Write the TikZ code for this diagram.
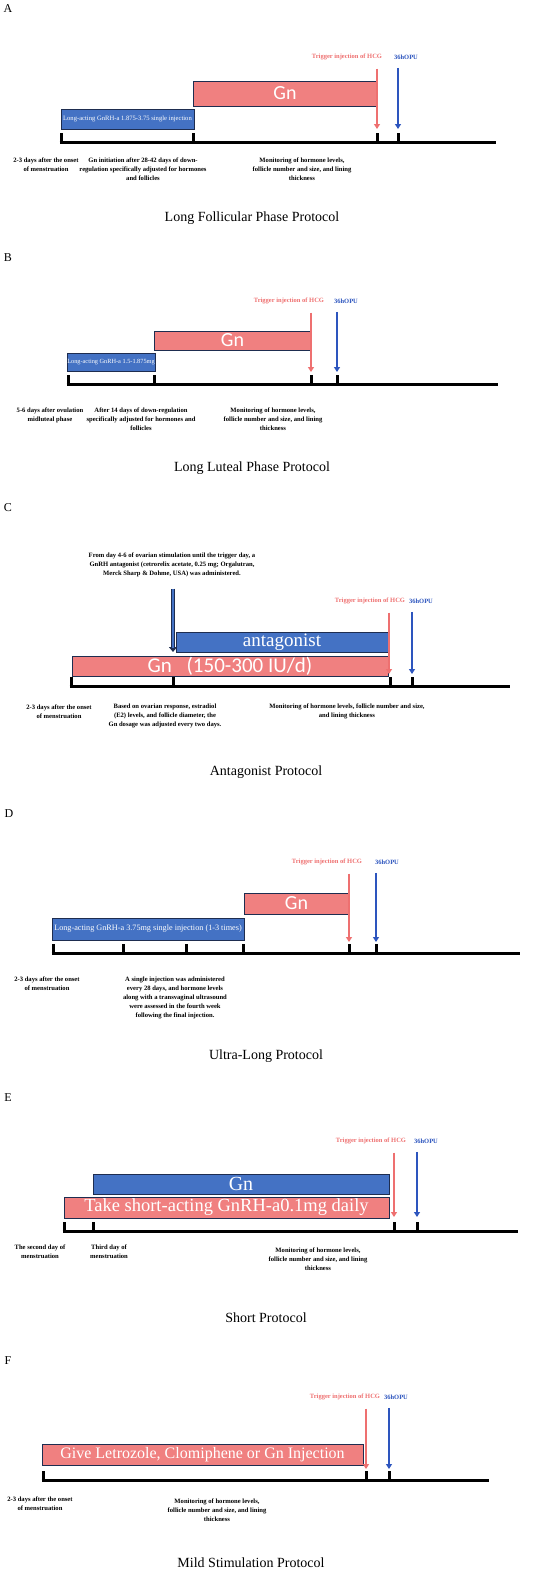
\documentclass[tikz,border=0pt]{standalone}
\usepackage{fontspec}
\setmainfont{Liberation Serif}
\newfontfamily\calibri{Carlito}
\usepackage{tikz}
\usetikzlibrary{arrows.meta}
\definecolor{gnpink}{RGB}{240,128,128}
\definecolor{agblue}{RGB}{68,114,196}
\definecolor{edgenavy}{RGB}{30,45,80}
\definecolor{hcgred}{RGB}{238,112,112}
\definecolor{opublue}{RGB}{45,85,190}

\begin{document}
\begin{tikzpicture}[x=1pt, y=-1pt,
    pinkbar/.style={draw=edgenavy, line width=0.9pt, fill=gnpink, text=white, inner sep=0pt},
    bluebar/.style={draw=edgenavy, line width=0.9pt, fill=agblue, text=white, inner sep=0pt},
    gnsans/.style={font=\calibri\fontsize{20}{20}\selectfont},
    note/.style={font=\fontsize{6.6}{9}\selectfont\bfseries, align=center},
    ptitle/.style={font=\fontsize{14}{16}\selectfont},
    letter/.style={font=\fontsize{12}{14}\selectfont},
    hcg/.style={font=\fontsize{6.5}{8}\selectfont\bfseries, text=hcgred},
    opu/.style={font=\fontsize{6.5}{8}\selectfont\bfseries, text=opublue},
    redarr/.style={-{Triangle[width=6pt,length=5pt]}, line width=1.6pt, hcgred, shorten <=5pt},
    bluearr/.style={-{Triangle[width=6pt,length=5pt]}, line width=1.6pt, opublue, shorten <=5pt},
    tline/.style={line width=3pt}
  ]
    \useasboundingbox (0,0) rectangle (558,1572);

    % A: long follicular phase
    \node[letter] (pA) at (8,8.5) {A};
    \node[hcg] (trigA) at (347,57) {Trigger injection of HCG};
    \node[opu] (opuA) at (406,57) {36hOPU};
    \node[pinkbar, minimum width=184pt, minimum height=25pt, gnsans] (gnA) at (285,93.5) {Gn};
    \node[bluebar, minimum width=133pt, minimum height=20pt, font=\fontsize{6.6}{8}\selectfont] (lagA) at (127.5,119) {Long-acting GnRH-a 1.875-3.75 single injection};
    \draw[tline] (59.5,142) -- (496,142);
    \foreach \x in {61,193,377,398} \draw[tline] (\x,133) -- (\x,142);
    \coordinate (hcgA) at (377,129);
    \coordinate (retA) at (398,129);
    \draw[redarr] (trigA.south -| hcgA) -- (hcgA);
    \draw[bluearr] (opuA.south -| retA) -- (retA);
    \node[note] (a1) at (46,164.5) {2-3 days after the onset\\of menstruation};
    \node[note] (a2) at (143,169) {Gn initiation after 28-42 days of down-\\regulation specifically adjusted for hormones\\and follicles};
    \node[note] (a3) at (302,169.5) {Monitoring of hormone levels,\\follicle number and size, and lining\\thickness};
    \node[ptitle] (tA) at (252,218) {Long Follicular Phase Protocol};

    % B: long luteal phase
    \node[letter] (pB) at (8,258) {B};
    \node[hcg] (trigB) at (289,301) {Trigger injection of HCG};
    \node[opu] (opuB) at (346,301) {36hOPU};
    \node[pinkbar, minimum width=157pt, minimum height=19pt, gnsans] (gnB) at (232.5,340.5) {Gn};
    \node[bluebar, minimum width=88pt, minimum height=18pt, font=\fontsize{6.3}{8}\selectfont] (lagB) at (111,362) {Long-acting GnRH-a 1.5-1.875mg};
    \draw[tline] (66.5,384) -- (498,384);
    \foreach \x in {68,154,311,337} \draw[tline] (\x,375) -- (\x,384);
    \coordinate (hcgB) at (311,372);
    \coordinate (retB) at (337,372);
    \draw[redarr] (trigB.south -| hcgB) -- (hcgB);
    \draw[bluearr] (opuB.south -| retB) -- (retB);
    \node[note] (b1) at (50,415) {5-6 days after ovulation\\midluteal phase};
    \node[note] (b2) at (141,419.5) {After 14 days of down-regulation\\specifically adjusted for hormones and\\follicles};
    \node[note] (b3) at (273,419.5) {Monitoring of hormone levels,\\follicle number and size, and lining\\thickness};
    \node[ptitle] (tB) at (252,468) {Long Luteal Phase Protocol};

    % C: antagonist
    \node[letter] (pC) at (8,508) {C};
    \node[note] (antnote) at (172,565) {From day 4-6 of ovarian stimulation until the trigger day, a\\GnRH antagonist (cetrorelix acetate, 0.25 mg; Orgalutran,\\Merck Sharp \& Dohme, USA) was administered.};
    \node[hcg] (trigC) at (370,601) {Trigger injection of HCG};
    \node[opu] (opuC) at (421,601) {36hOPU};
    \node[bluebar, minimum width=212pt, minimum height=20pt, font=\fontsize{19}{19}\selectfont] (antC) at (282,642) {antagonist};
    \node[pinkbar, minimum width=316pt, minimum height=20pt, font=\calibri\fontsize{21}{21}\selectfont] (gnC) at (230,666) {Gn\hspace{0.7em}(150-300 IU/d)};
    \coordinate (startC) at (173,652);
    \draw[line width=4pt, edgenavy, -{Triangle[width=8pt,length=5pt]}, shorten <=8pt] (antnote.south -| startC) -- (startC);
    \draw[line width=2.7pt, agblue, shorten <=8.7pt, shorten >=4.5pt] (antnote.south -| startC) -- (startC);
    \draw[tline] (69.5,686) -- (510,686);
    \foreach \x in {71,173,390,412} \draw[tline] (\x,677) -- (\x,686);
    \coordinate (hcgC) at (389,674);
    \coordinate (retC) at (412,674);
    \draw[redarr] (trigC.south -| hcgC) -- (hcgC);
    \draw[bluearr] (opuC.south -| retC) -- (retC);
    \node[note] (c1) at (59,711.5) {2-3 days after the onset\\of menstruation};
    \node[note] (c2) at (165,715.5) {Based on ovarian response, estradiol\\(E2) levels, and follicle diameter, the\\Gn dosage was adjusted every two days.};
    \node[note] (c3) at (347,711.5) {Monitoring of hormone levels, follicle number and size,\\and lining thickness};
    \node[ptitle] (tC) at (266,772) {Antagonist Protocol};

    % D: ultra-long
    \node[letter] (pD) at (9,814) {D};
    \node[hcg] (trigD) at (327,862) {Trigger injection of HCG};
    \node[opu] (opuD) at (387,862) {36hOPU};
    \node[pinkbar, minimum width=105pt, minimum height=21pt, gnsans] (gnD) at (296.5,903.5) {Gn};
    \node[bluebar, minimum width=192pt, minimum height=22pt, font=\fontsize{8.2}{10}\selectfont] (lagD) at (148,929) {Long-acting GnRH-a 3.75mg single injection (1-3 times)};
    \draw[tline] (51.5,953) -- (520,953);
    \foreach \x in {53,123,186,243,349,376} \draw[tline] (\x,944) -- (\x,953);
    \coordinate (hcgD) at (349,942);
    \coordinate (retD) at (376,942);
    \draw[redarr] (trigD.south -| hcgD) -- (hcgD);
    \draw[bluearr] (opuD.south -| retD) -- (retD);
    \node[note] (d1) at (47,983.5) {2-3 days after the onset\\of menstruation};
    \node[note] (d2) at (175,997.5) {A single injection was administered\\every 28 days, and hormone levels\\along with a transvaginal ultrasound\\were assessed in the fourth week\\following the final injection.};
    \node[ptitle] (tD) at (266,1056) {Ultra-Long Protocol};

    % E: short
    \node[letter] (pE) at (8,1098) {E};
    \node[hcg] (trigE) at (371,1141) {Trigger injection of HCG};
    \node[opu] (opuE) at (426,1141) {36hOPU};
    \node[bluebar, minimum width=296pt, minimum height=20pt, font=\fontsize{20}{20}\selectfont] (gnE) at (241,1184) {Gn};
    \node[pinkbar, minimum width=325pt, minimum height=21pt, font=\fontsize{18.5}{19}\selectfont] (shortE) at (226.5,1207.5) {Take short-acting GnRH-a0.1mg daily};
    \draw[tline] (62.5,1231) -- (518,1231);
    \foreach \x in {64,93,394,417} \draw[tline] (\x,1222) -- (\x,1231);
    \coordinate (hcgE) at (394,1217);
    \coordinate (retE) at (417,1217);
    \draw[redarr] (trigE.south -| hcgE) -- (hcgE);
    \draw[bluearr] (opuE.south -| retE) -- (retE);
    \node[note] (e1) at (40,1251.5) {The second day of\\menstruation};
    \node[note] (e2) at (109,1251.5) {Third day of\\menstruation};
    \node[note] (e3) at (318,1259) {Monitoring of hormone levels,\\follicle number and size, and lining\\thickness};
    \node[ptitle] (tE) at (266,1318) {Short Protocol};

    % F: mild stimulation
    \node[letter] (pF) at (8,1361) {F};
    \node[hcg] (trigF) at (345,1397) {Trigger injection of HCG};
    \node[opu] (opuF) at (396,1397) {36hOPU};
    \node[pinkbar, minimum width=321pt, minimum height=21pt, font=\fontsize{16}{17}\selectfont] (mildF) at (202.5,1454.5) {Give Letrozole, Clomiphene or Gn Injection};
    \draw[tline] (41.5,1480) -- (489,1480);
    \foreach \x in {43,366,389} \draw[tline] (\x,1471) -- (\x,1480);
    \coordinate (hcgF) at (366,1469);
    \coordinate (retF) at (389,1469);
    \draw[redarr] (trigF.south -| hcgF) -- (hcgF);
    \draw[bluearr] (opuF.south -| retF) -- (retF);
    \node[note] (f1) at (40,1503.5) {2-3 days after the onset\\of menstruation};
    \node[note] (f2) at (217,1510) {Monitoring of hormone levels,\\follicle number and size, and lining\\thickness};
    \node[ptitle] (tF) at (251,1563) {Mild Stimulation Protocol};
  \end{tikzpicture}
\end{document}
